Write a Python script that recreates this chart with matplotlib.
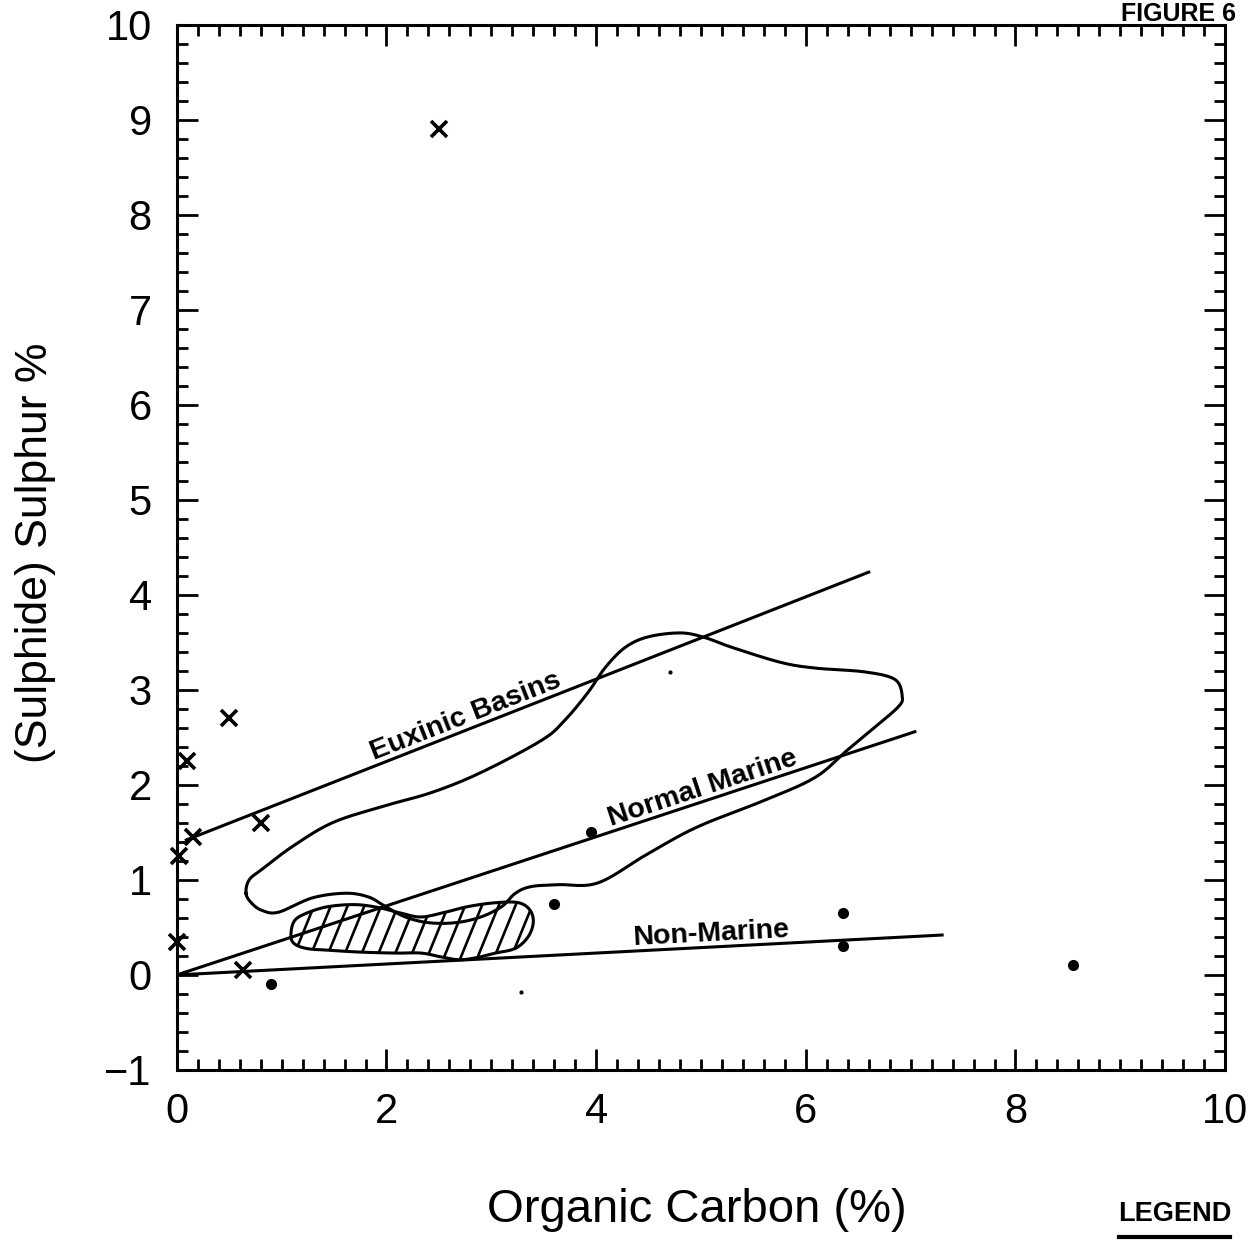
import numpy as np
import matplotlib
matplotlib.use('Agg')
import matplotlib.pyplot as plt
from matplotlib.patches import Polygon
from matplotlib.ticker import MultipleLocator

plt.rcParams['font.family'] = ['Liberation Sans Narrow', 'Liberation Sans', 'DejaVu Sans']

# samples (organic carbon %, sulphide sulphur %)
cross_x = [2.50, 0.50, 0.10, 0.80, 0.15, 0.02, 0.00, 0.63]
cross_y = [8.90, 2.70, 2.25, 1.60, 1.45, 1.25, 0.35, 0.05]
dot_x = [0.90, 3.95, 3.60, 6.35, 6.35, 8.55]
dot_y = [-0.10, 1.50, 0.75, 0.65, 0.30, 0.10]
speck_x = [4.70, 3.28]
speck_y = [3.19, -0.18]

# reference lines
euxinic_x = [0.09, 6.60]
euxinic_y = [1.42, 4.24]
marine_x = [0.00, 7.04]
marine_y = [0.00, 2.56]
nonmarine_x = [0.00, 7.30]
nonmarine_y = [0.00, 0.42]

# normal marine field outline
field_x = [0.66, 0.69, 0.81, 1.10, 1.48, 1.95, 2.43, 2.90, 3.48, 3.70, 3.92, 4.09,
           4.28, 4.50, 4.81, 5.04, 5.29, 5.76, 6.09, 6.56, 6.85, 6.92, 6.88, 6.66,
           6.40, 6.09, 5.61, 4.97, 4.50, 4.02, 3.64, 3.38, 3.23, 3.10, 2.90, 2.66,
           2.40, 2.18, 1.99, 1.83, 1.61, 1.29, 0.97, 0.81, 0.71]
field_y = [0.86, 1.00, 1.11, 1.35, 1.60, 1.77, 1.92, 2.13, 2.47, 2.68, 2.97, 3.24,
           3.45, 3.56, 3.60, 3.55, 3.45, 3.29, 3.23, 3.19, 3.11, 2.93, 2.82, 2.61,
           2.37, 2.08, 1.84, 1.56, 1.28, 0.97, 0.95, 0.93, 0.86, 0.72, 0.61, 0.55,
           0.55, 0.61, 0.72, 0.82, 0.86, 0.81, 0.66, 0.68, 0.76]

# hatched area
hatch_x = [1.09, 1.13, 1.26, 1.45, 1.70, 1.92, 2.14, 2.33, 2.56, 2.78, 3.04, 3.26,
           3.37, 3.40, 3.35, 3.23, 3.04, 2.85, 2.69, 2.52, 2.33, 2.09, 1.76, 1.45,
           1.23, 1.11]
hatch_y = [0.45, 0.58, 0.66, 0.72, 0.74, 0.71, 0.65, 0.61, 0.66, 0.72, 0.76, 0.76,
           0.68, 0.55, 0.40, 0.28, 0.23, 0.18, 0.16, 0.19, 0.23, 0.23, 0.24, 0.26,
           0.28, 0.34]


def smooth_closed(xs, ys, n=14):
    # catmull-rom through the traced points
    P = np.column_stack([xs, ys])
    N = len(P)
    t = np.linspace(0, 1, n, endpoint=False)[:, None]
    out = []
    for i in range(N):
        p0, p1, p2, p3 = P[i - 1], P[i], P[(i + 1) % N], P[(i + 2) % N]
        out.append(0.5 * (2 * p1 + (-p0 + p2) * t + (2 * p0 - 5 * p1 + 4 * p2 - p3) * t ** 2
                          + (-p0 + 3 * p1 - 3 * p2 + p3) * t ** 3))
    out = np.vstack(out)
    return np.vstack([out, out[:1]])


fig = plt.figure(figsize=(12.54, 12.47), dpi=100)
ax = fig.add_axes([0.141, 0.142, 0.836, 0.838])

lw = 2.2
ax.plot(euxinic_x, euxinic_y, color='black', lw=lw)
ax.plot(marine_x, marine_y, color='black', lw=lw)
ax.plot(nonmarine_x, nonmarine_y, color='black', lw=lw)

field = smooth_closed(field_x, field_y)
ax.plot(field[:, 0], field[:, 1], color='black', lw=lw)

hatch = smooth_closed(hatch_x, hatch_y)
patch = Polygon(hatch, closed=True, fill=False, edgecolor='black', lw=lw)
ax.add_patch(patch)
slope = 2.7
for c in np.arange(0.4, 3.6, 0.16):
    ln, = ax.plot([c, c + 1.0 / slope], [0.0, 1.0], color='black', lw=1.9)
    ln.set_clip_path(patch)

ax.plot(cross_x, cross_y, 'x', color='black', ms=12, mew=2.6, clip_on=False)
ax.plot(dot_x, dot_y, 'o', color='black', ms=7, clip_on=False)
ax.plot(speck_x, speck_y, 'o', color='black', ms=2)

lab = dict(fontsize=20.5, fontweight='bold', family=['Liberation Sans', 'DejaVu Sans'],
           ha='center', va='bottom', rotation_mode='anchor', transform_rotates_text=True)
ang = lambda xs, ys: np.degrees(np.arctan2(ys[1] - ys[0], xs[1] - xs[0]))
yl = lambda xs, ys, x: ys[0] + (ys[1] - ys[0]) * (x - xs[0]) / (xs[1] - xs[0])
ax.text(2.8, yl(euxinic_x, euxinic_y, 2.8), 'Euxinic Basins',
        rotation=ang(euxinic_x, euxinic_y), **lab)
ax.text(5.05, yl(marine_x, marine_y, 5.05), 'Normal Marine',
        rotation=ang(marine_x, marine_y), **lab)
ax.text(5.1, yl(nonmarine_x, nonmarine_y, 5.1), 'Non-Marine',
        rotation=ang(nonmarine_x, nonmarine_y), **lab)

ax.set_xlim(0, 10)
ax.set_ylim(-1, 10)
ax.xaxis.set_major_locator(MultipleLocator(2))
ax.xaxis.set_minor_locator(MultipleLocator(0.2))
ax.yaxis.set_major_locator(MultipleLocator(1))
ax.yaxis.set_minor_locator(MultipleLocator(0.2))
ax.tick_params(which='both', direction='in', top=True, right=True, width=2.0)
ax.tick_params(which='major', length=15, labelsize=30)
ax.tick_params(which='minor', length=8)
ax.tick_params(axis='x', which='major', pad=16)
ax.tick_params(axis='y', which='major', pad=18)
for s in ax.spines.values():
    s.set_linewidth(2.2)

fig.text(0.556, 0.02, 'Organic Carbon (%)', fontsize=34, ha='center', va='baseline')
fig.text(0.028, 0.557, '(Sulphide) Sulphur %', fontsize=32, ha='center', va='center',
         rotation=90)

bold = ['Liberation Sans', 'DejaVu Sans']
fig.text(0.986, 0.998, 'FIGURE 6', fontsize=18, fontweight='bold', family=bold,
         ha='right', va='top')
fig.text(0.982, 0.021, 'LEGEND', fontsize=19.5, fontweight='bold', family=bold,
         ha='right', va='baseline')
fig.add_artist(plt.Line2D([0.892, 0.981], [0.008, 0.008], color='black', lw=3))

fig.savefig('out.png', dpi=100)
